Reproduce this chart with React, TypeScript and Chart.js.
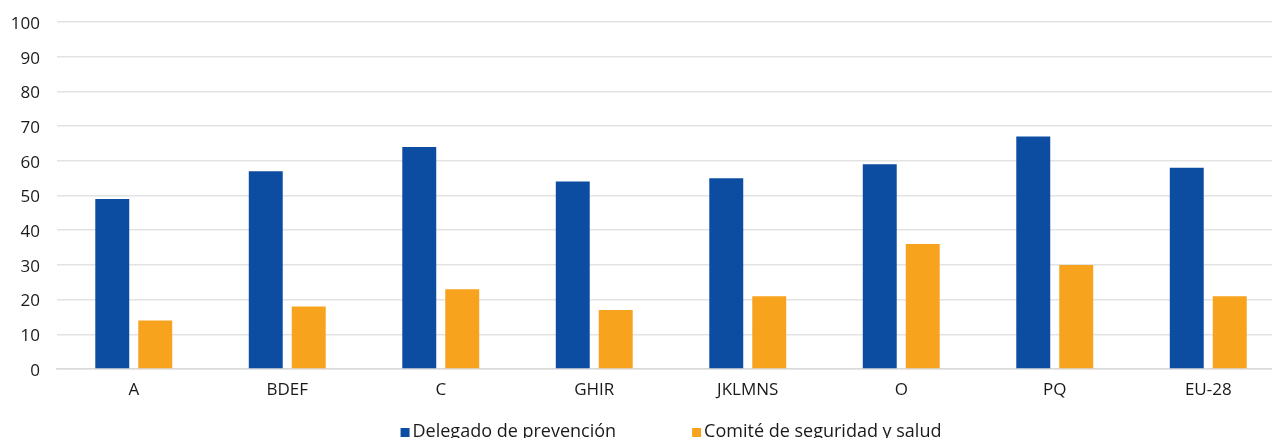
import React, { useEffect, useRef } from "react";
import { Chart, registerables } from "chart.js";

Chart.register(...registerables);

const categories = ["A", "BDEF", "C", "GHIR", "JKLMNS", "O", "PQ", "EU-28"];
const delegadoValues = [49, 57, 64, 54, 55, 59, 67, 58];
const comiteValues = [14, 18, 23, 17, 21, 36, 30, 21];
const seriesLabels = ["Delegado de prevención", "Comité de seguridad y salud"];
const seriesColors = ["#0c4da2", "#f7a31e"];

const FONT = "'Open Sans', 'Noto Sans', sans-serif";
const CANVAS_W = 1340;
const CANVAS_H = 460;

const bottomLegend = {
  id: "bottomLegend",
  afterDraw(chart: any) {
    const { ctx, chartArea } = chart;
    const box = 9;
    const boxGap = 3;
    const itemGap = 76;
    ctx.save();
    ctx.font = `18px ${FONT}`;
    const items = chart.data.datasets.map((ds: any) => ({
      label: ds.label,
      color: ds.backgroundColor,
      w: box + boxGap + ctx.measureText(ds.label).width,
    }));
    const total = items.reduce((s: number, it: any) => s + it.w, 0) + itemGap * (items.length - 1);
    let x = (chartArea.left + chartArea.right) / 2 - total / 2;
    const baseline = chartArea.bottom + 68;
    ctx.textBaseline = "alphabetic";
    ctx.textAlign = "left";
    for (const it of items) {
      ctx.fillStyle = it.color;
      ctx.fillRect(x, baseline - box, box, box);
      ctx.fillStyle = "#1a1a1a";
      ctx.fillText(it.label, x + box + boxGap, baseline);
      x += it.w + itemGap;
    }
    ctx.restore();
  },
};

export default function App() {
  const canvasRef = useRef<HTMLCanvasElement | null>(null);

  useEffect(() => {
    if (!canvasRef.current) return;
    const chart = new Chart(canvasRef.current, {
      type: "bar",
      data: {
        labels: categories,
        datasets: [
          {
            label: seriesLabels[0],
            data: delegadoValues,
            backgroundColor: seriesColors[0],
            categoryPercentage: 0.56,
            barPercentage: 0.79,
          },
          {
            label: seriesLabels[1],
            data: comiteValues,
            backgroundColor: seriesColors[1],
            categoryPercentage: 0.56,
            barPercentage: 0.79,
          },
        ],
      },
      options: {
        responsive: false,
        animation: false,
        layout: { padding: { top: 22, right: CANVAS_W - 1285, bottom: 51, left: 0 } },
        plugins: {
          legend: { display: false },
          tooltip: { enabled: false },
        },
        scales: {
          x: {
            grid: { display: false, drawTicks: false },
            border: { display: true, color: "#d9d9d9", width: 1.5 },
            ticks: { color: "#1a1a1a", font: { family: FONT, size: 17 }, padding: 11 },
            afterFit: (s: any) => {
              s.height = 40;
            },
          },
          y: {
            min: 0,
            max: 100,
            ticks: { stepSize: 10, color: "#1a1a1a", font: { family: FONT, size: 17 }, padding: 17, labelOffset: 2 },
            grid: { color: "#e3e3e3", lineWidth: 1.5, drawTicks: false },
            border: { display: false },
            afterFit: (s: any) => {
              s.width = 57;
              s.paddingTop = 0;
              s.paddingBottom = 0;
            },
          },
        },
      },
      plugins: [bottomLegend],
    });
    return () => chart.destroy();
  }, []);

  return (
    <div style={{ position: "fixed", left: 0, top: 0, width: 1272, height: 438, overflow: "hidden", background: "#fff" }}>
      <canvas ref={canvasRef} width={CANVAS_W} height={CANVAS_H} />
    </div>
  );
}
